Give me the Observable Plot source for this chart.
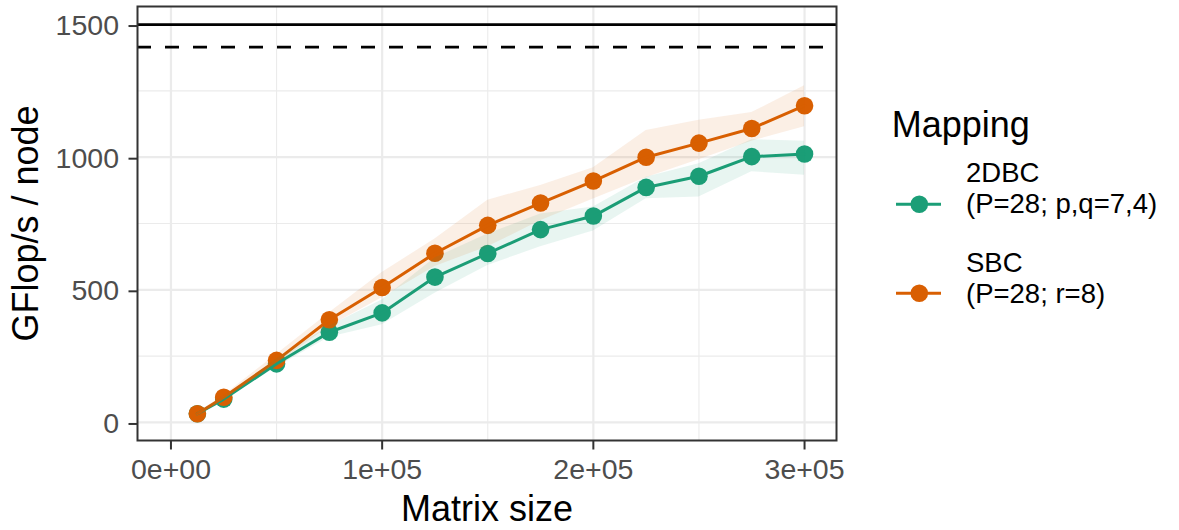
<!DOCTYPE html>
<html>
<head>
<meta charset="utf-8">
<script src="https://cdn.jsdelivr.net/npm/d3@7"></script>
<script src="https://cdn.jsdelivr.net/npm/@observablehq/plot@0.6"></script>
<style>
  body { margin: 0; background: #fff; font-family: "Liberation Sans", Arial, Helvetica, sans-serif; }
  #wrap { position: relative; width: 1179px; height: 530px; overflow: hidden; }
  #legend { position: absolute; left: 850px; top: 90px; }
</style>
</head>
<body>
<div id="wrap"></div>
<script>
// ---- data ----
const sizes = [12500, 25000, 50000, 75000, 100000, 125000, 150000, 175000, 200000, 225000, 250000, 275000, 300000];
const mappings = ["2DBC", "SBC"];
const mappingLabels = [["2DBC", "(P=28; p,q=7,4)"], ["SBC", "(P=28; r=8)"]];
const colors = ["#1B9E77", "#D95F02"];

const gflops2DBC = [33, 88, 221, 340, 413, 548, 637, 727, 778, 886, 928, 1002, 1012];
const low2DBC    = [30, 84, 208, 321, 368, 487, 592, 662, 722, 843, 850, 945, 932];
const high2DBC   = [36, 94, 238, 364, 462, 620, 710, 786, 812, 924, 975, 1066, 1060];

const gflopsSBC  = [33, 95, 234, 387, 509, 638, 743, 827, 910, 1000, 1053, 1108, 1194];
const lowSBC     = [30, 88, 220, 362, 470, 588, 662, 760, 842, 922, 990, 1060, 1115];
const highSBC    = [37, 102, 256, 414, 565, 692, 838, 893, 960, 1101, 1139, 1168, 1269];

const peakLine = [1500];
const practicalPeak = [1415];

const xTicks = [0, 100000, 200000, 300000];
const xMinor = [50000, 150000, 250000];
const yTicks = [0, 500, 1000, 1500];
const yMinor = [250, 750, 1250];
const xTickLabels = ["0e+00", "1e+05", "2e+05", "3e+05"];
const yTickLabels = ["0", "500", "1000", "1500"];

const xTitle = "Matrix size";
const yTitle = "GFlop/s / node";
const legendTitle = "Mapping";

// ---- table ----
const series = {
  "2DBC": {v: gflops2DBC, lo: low2DBC, hi: high2DBC},
  "SBC":  {v: gflopsSBC,  lo: lowSBC,  hi: highSBC}
};
const data = [];
for (const m of mappings) {
  sizes.forEach((s, i) => data.push({size: s, mapping: m, v: series[m].v[i], lo: series[m].lo[i], hi: series[m].hi[i]}));
}

const FONT = "Liberation Sans, Arial, Helvetica, sans-serif";
const SMALL = 28.5, BIG = 36, LEGEND = 27.5;

const chart = Plot.plot({
  width: 1179,
  height: 530,
  marginLeft: 137,
  marginRight: 343,
  marginTop: 6,
  marginBottom: 90,
  style: {fontFamily: FONT, background: "white", overflow: "visible"},
  x: {domain: [-15840, 315130], label: null},
  y: {domain: [-68, 1568], label: null},
  color: {domain: mappings, range: colors},
  marks: [
    Plot.gridX(xMinor, {stroke: "#EBEBEB", strokeOpacity: 1, strokeWidth: 1.1}),
    Plot.gridY(yMinor, {stroke: "#EBEBEB", strokeOpacity: 1, strokeWidth: 1.1}),
    Plot.gridX(xTicks, {stroke: "#EBEBEB", strokeOpacity: 1, strokeWidth: 2.2}),
    Plot.gridY(yTicks, {stroke: "#EBEBEB", strokeOpacity: 1, strokeWidth: 2.2}),
    Plot.ruleY(peakLine, {stroke: "black", strokeWidth: 2.8}),
    Plot.ruleY(practicalPeak, {stroke: "black", strokeWidth: 2.8, strokeDasharray: "14,14"}),
    Plot.dot(data, {x: "size", y: "v", fill: "mapping", r: 8.8}),
    Plot.line(data, {x: "size", y: "v", stroke: "mapping", z: "mapping", strokeWidth: 3}),
    Plot.areaY(data, {x: "size", y1: "lo", y2: "hi", fill: "mapping", z: "mapping", fillOpacity: 0.1}),
    Plot.frame({stroke: "#333333", strokeWidth: 2}),
    Plot.axisX(xTicks, {tickFormat: d => xTickLabels[xTicks.indexOf(d)], tickSize: 9.5, tickPadding: 8.8, fontSize: SMALL, fill: "#4D4D4D", stroke: "#333333", strokeWidth: 2, label: null}),
    Plot.axisY(yTicks, {tickFormat: d => yTickLabels[yTicks.indexOf(d)], tickSize: 8.5, tickPadding: 10, dy: 1.5, fontSize: SMALL, fill: "#4D4D4D", stroke: "#333333", strokeWidth: 2, label: null}),
    Plot.text([xTitle], {text: d => d, frameAnchor: "bottom", lineAnchor: "middle", textAnchor: "middle", dy: 68.5, fontSize: BIG, fill: "black"}),
    Plot.text([yTitle], {text: d => d, frameAnchor: "left", lineAnchor: "middle", textAnchor: "middle", dx: -111.5, rotate: -90, fontSize: BIG, fill: "black"})
  ]
});

const wrap = document.getElementById("wrap");
wrap.appendChild(chart);

// ---- legend ----
const lg = d3.select(wrap).append("svg")
  .attr("id", "legend").attr("width", 329).attr("height", 240)
  .style("font-family", FONT);
lg.append("text").attr("x", 41.7).attr("y", 47.3).attr("font-size", BIG).attr("fill", "black").text(legendTitle);
mappingLabels.forEach((lab, i) => {
  const ky = 114.3 + i * 89;
  const g = lg.append("g");
  g.append("line").attr("x1", 46).attr("x2", 91).attr("y1", ky).attr("y2", ky)
    .attr("stroke", colors[i]).attr("stroke-width", 3);
  g.append("circle").attr("cx", 69.3).attr("cy", ky).attr("r", 8.8).attr("fill", colors[i]);
  lab.forEach((line, j) => {
    g.append("text").attr("x", 116).attr("y", 92.2 + i * 90 + j * 31.2)
      .attr("font-size", LEGEND).attr("fill", "black").text(line);
  });
});
</script>
</body>
</html>
